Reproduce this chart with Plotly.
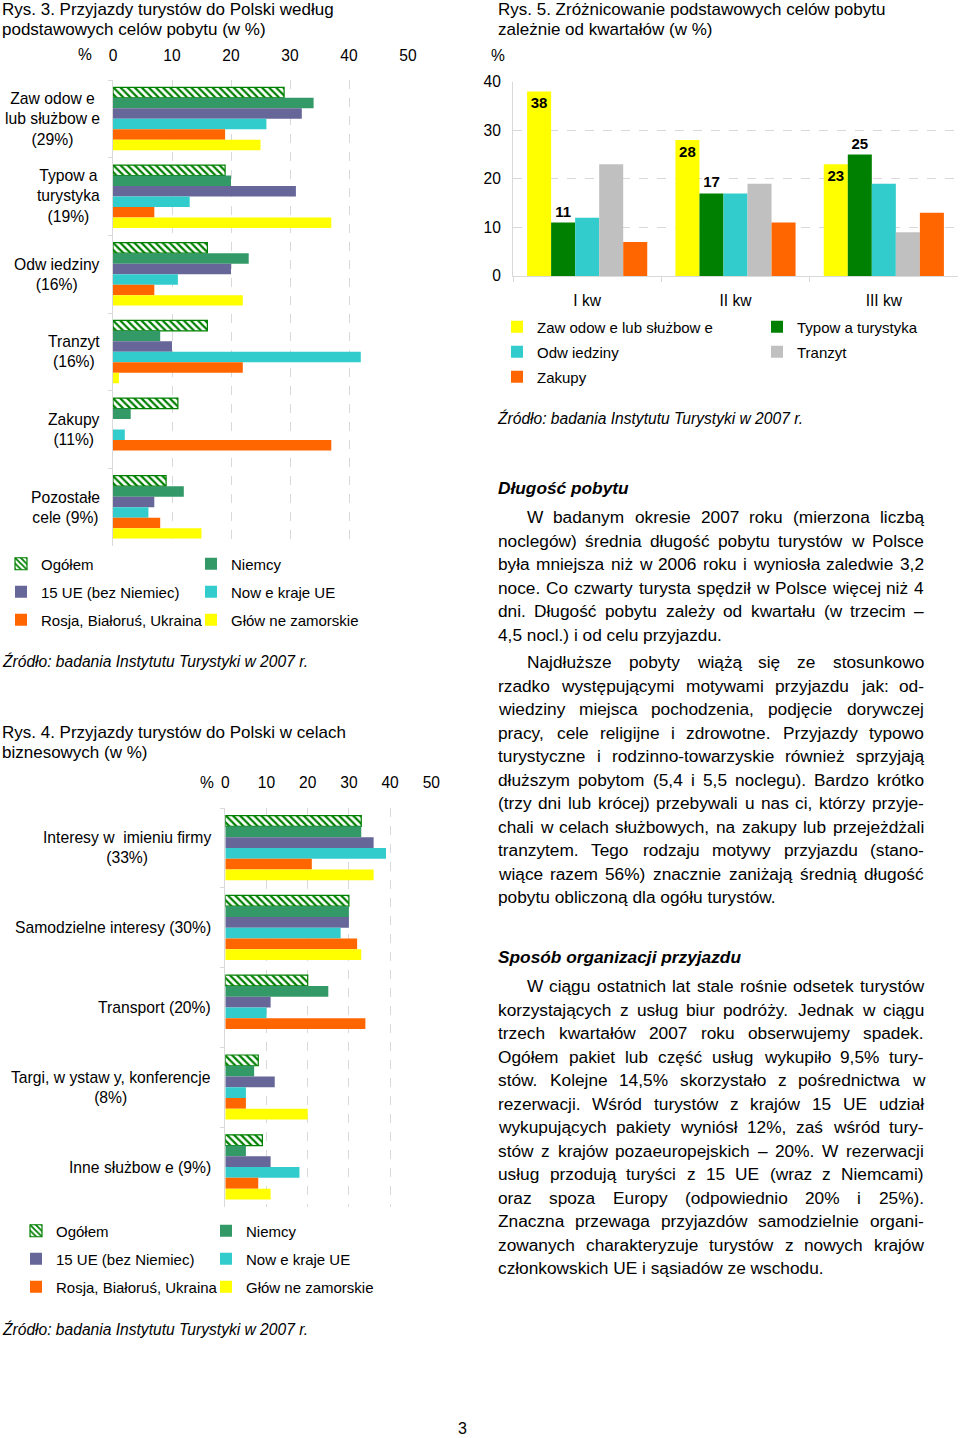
import plotly.graph_objects as go

W, H = 960, 1438
FONT = "Liberation Sans, Arial, sans-serif"


def px(x):
    return x / W


def py(y):
    return 1 - y / H


# ---------------- DATA ----------------
# Rys. 3
purposes3 = ["Zawodowe", "Typowa", "Odwiedziny", "Tranzyt", "Zakupy", "Pozostale"]
purpose_labels3 = ["Zaw odow e<br>lub służbow e<br>(29%)", "Typow a<br>turystyka<br>(19%)",
                   "Odw iedziny<br>(16%)", "Tranzyt<br>(16%)", "Zakupy<br>(11%)",
                   "Pozostałe<br>cele (9%)"]
series_names = ["Ogółem", "Niemcy", "15 UE (bez Niemiec)", "Now e kraje UE",
                "Rosja, Białoruś, Ukraina", "Głów ne zamorskie"]
ogolem3 = [29, 19, 16, 16, 11, 9]
niemcy3 = [34, 20, 23, 8, 3, 12]
ue15_3 = [32, 31, 20, 10, None, 7]
nowe3 = [26, 13, 11, 42, 2, 6]
rosja3 = [19, 7, 7, 22, 37, 8]
glowne3 = [25, 37, 22, 1, None, 15]

# Rys. 4
purposes4 = ["Interesy", "Samodzielne", "Transport", "Targi", "Inne"]
purpose_labels4 = ["Interesy w  imieniu firmy<br>(33%)", "Samodzielne interesy (30%)",
                   "Transport (20%)", "Targi, w ystaw y, konferencje<br>(8%)",
                   "Inne służbow e (9%)"]
ogolem4 = [33, 30, 20, 8, 9]
niemcy4 = [33, 30, 25, 7, 5]
ue15_4 = [36, 30, 11, 12, 11]
nowe4 = [39, 28, 10, 5, 18]
rosja4 = [21, 32, 34, 5, 8]
glowne4 = [36, 33, None, 20, 11]

# Rys. 5
quarters = ["I kw", "II kw", "III kw"]
goals5 = ["Zaw odow e lub służbow e", "Typow a turystyka", "Odw iedziny", "Tranzyt", "Zakupy"]
zawodowe5 = [38, 28, 23]
typowa5 = [11, 17, 25]
odwiedziny5 = [12, 17, 19]
tranzyt5 = [23, 19, 9]
zakupy5 = [7, 11, 13]

ticks_pct = [0, 10, 20, 30, 40, 50]
ticks5 = [0, 10, 20, 30, 40]

source_text = "Źródło: badania Instytutu Turystyki w 2007 r."

para1 = ["W badanym okresie 2007 roku (mierzona liczbą",
         "noclegów) średnia długość pobytu turystów w Polsce",
         "była mniejsza niż w 2006 roku i wyniosła zaledwie 3,2",
         "noce. Co czwarty turysta spędził w Polsce więcej niż 4",
         "dni. Długość pobytu zależy od kwartału (w trzecim –",
         "4,5 nocl.) i od celu przyjazdu."]
para2 = ["Najdłuższe pobyty wiążą się ze stosunkowo",
         "rzadko występującymi motywami przyjazdu jak: od-",
         "wiedziny miejsca pochodzenia, podjęcie dorywczej",
         "pracy, cele religijne i zdrowotne. Przyjazdy typowo",
         "turystyczne i rodzinno-towarzyskie również sprzyjają",
         "dłuższym pobytom (5,4 i 5,5 noclegu). Bardzo krótko",
         "(trzy dni lub krócej) przebywali u nas ci, którzy przyje-",
         "chali w celach służbowych, na zakupy lub przejeżdżali",
         "tranzytem. Tego rodzaju motywy przyjazdu (stano-",
         "wiące razem 56%) znacznie zaniżają średnią długość",
         "pobytu obliczoną dla ogółu turystów."]
para3 = ["W ciągu ostatnich lat stale rośnie odsetek turystów",
         "korzystających z usług biur podróży. Jednak w ciągu",
         "trzech kwartałów 2007 roku obserwujemy spadek.",
         "Ogółem pakiet lub część usług wykupiło 9,5% tury-",
         "stów. Kolejne 14,5% skorzystało z pośrednictwa w",
         "rezerwacji. Wśród turystów z krajów 15 UE udział",
         "wykupujących pakiety wyniósł 12%, zaś wśród tury-",
         "stów z krajów pozaeuropejskich – 20%. W rezerwacji",
         "usług przodują turyści z 15 UE (wraz z Niemcami)",
         "oraz spoza Europy (odpowiednio 20% i 25%).",
         "Znaczna przewaga przyjazdów samodzielnie organi-",
         "zowanych charakteryzuje turystów z nowych krajów",
         "członkowskich UE i sąsiadów ze wschodu."]

# ---------------- STYLE ----------------
C_OG = "#008000"
C_NIEMCY = "#339966"
C_UE15 = "#666699"
C_NOWE = "#33CCCC"
C_ROSJA = "#FF6600"
C_GLOWNE = "#FFFF00"
C_GREEN = "#008000"
C_GRAY = "#C0C0C0"
GRID = "#D9D9D9"

fig = go.Figure()

# series -> legend column (left col: Ogółem, 15 UE, Rosja; right col: Niemcy, Nowe, Główne)
col_of_series = [0, 1, 0, 1, 0, 1]


def add_hbars(vals_list, cats, xa, ya, legends, tag):
    cols = [None, C_NIEMCY, C_UE15, C_NOWE, C_ROSJA, C_GLOWNE]
    for i, (name, vals) in enumerate(zip(series_names, vals_list)):
        if i == 0:
            marker = dict(color="white", line=dict(color=C_OG, width=1.2),
                          pattern=dict(shape="\\", fgcolor=C_OG, bgcolor="white",
                                       size=5, solidity=0.45))
        else:
            marker = dict(color=cols[i], line=dict(width=0))
        fig.add_trace(go.Bar(y=cats, x=vals, orientation="h", name=name, marker=marker,
                             xaxis=xa, yaxis=ya, legend=legends[col_of_series[i]],
                             legendgroup=f"{tag}{i}", hoverinfo="skip"))


add_hbars([ogolem3, niemcy3, ue15_3, nowe3, rosja3, glowne3], purposes3, "x", "y",
          ["legend", "legend2"], "a")
add_hbars([ogolem4, niemcy4, ue15_4, nowe4, rosja4, glowne4], purposes4, "x2", "y2",
          ["legend3", "legend4"], "b")

cols5 = [C_GLOWNE, C_GREEN, C_NOWE, C_GRAY, C_ROSJA]
vals5 = [zawodowe5, typowa5, odwiedziny5, tranzyt5, zakupy5]
leg5 = ["legend5", "legend6", "legend5", "legend6", "legend5"]
for i, (name, vals) in enumerate(zip(goals5, vals5)):
    kw = {}
    if i == 0:
        kw = dict(text=vals, texttemplate="%{text}", textposition="inside",
                  insidetextanchor="end",
                  textfont=dict(family=FONT, size=15, color="black", weight="bold"))
    elif i == 1:
        kw = dict(text=vals, texttemplate="%{text}", textposition="outside",
                  textfont=dict(family=FONT, size=15, color="black", weight="bold"),
                  cliponaxis=False)
    fig.add_trace(go.Bar(x=quarters, y=vals, name=name,
                         marker=dict(color=cols5[i], line=dict(width=0)),
                         xaxis="x3", yaxis="y3", legend=leg5[i], legendgroup=f"c{i}",
                         hoverinfo="skip", **kw))

tickfont = dict(family=FONT, size=15.6, color="black")

fig.update_layout(
    template="none",
    width=W, height=H, margin=dict(l=0, r=0, t=0, b=0, pad=0, autoexpand=False),
    paper_bgcolor="white", plot_bgcolor="white",
    barmode="group", showlegend=True,
    font=dict(family=FONT, color="black"),
    xaxis=dict(domain=[px(113), px(408)], range=[0, 50], side="top", anchor="y",
               tickvals=ticks_pct, showgrid=True, gridcolor=GRID, griddash="dash",
               zeroline=False, showline=False, tickfont=tickfont, ticks="",
               ticklabelstandoff=15, automargin=False),
    yaxis=dict(domain=[py(546), py(80)], type="category", categoryarray=purposes3,
               autorange="reversed", showticklabels=False, showline=True, linecolor=GRID,
               ticks="outside", tickson="boundaries", ticklen=4, tickcolor=GRID,
               showgrid=False, anchor="x", automargin=False),
    xaxis2=dict(domain=[px(225.3), px(431.3)], range=[0, 50], side="top", anchor="y2",
                tickvals=ticks_pct, showgrid=True, gridcolor=GRID, griddash="dash",
                zeroline=False, showline=False, tickfont=tickfont, ticks="",
                ticklabelstandoff=16, automargin=False),
    yaxis2=dict(domain=[py(1207), py(808)], type="category", categoryarray=purposes4,
                autorange="reversed", showticklabels=False, showline=True, linecolor=GRID,
                ticks="outside", tickson="boundaries", ticklen=4, tickcolor=GRID,
                showgrid=False, anchor="x2", automargin=False),
    xaxis3=dict(domain=[px(513), px(958)], type="category", categoryarray=quarters,
                anchor="y3", showline=True, linecolor=GRID, ticks="outside",
                tickson="boundaries", ticklen=5, tickcolor=GRID, tickfont=tickfont,
                ticklabelstandoff=10, showgrid=False, automargin=False),
    yaxis3=dict(domain=[py(276), py(81.7)], range=[0, 40], tickvals=ticks5, anchor="x3",
                showgrid=True, gridcolor=GRID, griddash="dash", zeroline=False,
                showline=True, linecolor=GRID, tickfont=tickfont, ticks="",
                ticklabelstandoff=8, automargin=False),
    bargap=0.19, bargroupgap=0,
)
fig.update_xaxes(fixedrange=True)
fig.update_yaxes(fixedrange=True)


def legend_cfg(x, y, gap):
    return dict(orientation="v", x=px(x), y=py(y), xanchor="left", yanchor="middle",
                bgcolor="rgba(0,0,0,0)", font=dict(family=FONT, size=15, color="black"),
                borderwidth=0, itemwidth=30, traceorder="grouped", tracegroupgap=gap)


fig.update_layout(
    legend=legend_cfg(1, 592, 5.5), legend2=legend_cfg(191, 592, 5.5),
    legend3=legend_cfg(16, 1259, 5.5), legend4=legend_cfg(206, 1259, 5.5),
    legend5=legend_cfg(497, 352, 2.5), legend6=legend_cfg(757, 339.5, 2.5),
)

annots = []


def text(x, y, s, size=16, xanchor="left", align="left", **fontkw):
    annots.append(dict(x=px(x), y=py(y), xref="paper", yref="paper", text=s, showarrow=False,
                       xanchor=xanchor, yanchor="middle", align=align, borderpad=0, borderwidth=0,
                       font=dict(family=FONT, size=size, color="black", **fontkw)))


# titles
text(2, 10, "Rys. 3. Przyjazdy turystów do Polski według", 17)
text(2, 30, "podstawowych celów pobytu (w %)", 17)
text(2, 732, "Rys. 4. Przyjazdy turystów do Polski w celach", 17)
text(2, 752, "biznesowych (w %)", 17)
text(498, 10, "Rys. 5. Zróżnicowanie podstawowych celów pobytu", 17)
text(498, 30, "zależnie od kwartałów (w %)", 17)
text(85, 55, "%", 15.6, xanchor="center")
text(207, 782, "%", 15.6, xanchor="center")
text(498, 56, "%", 15.6, xanchor="center")

# category labels
for cat, lab in zip(purposes3, purpose_labels3):
    annots.append(dict(x=px(101), xref="paper", y=cat, yref="y", text=lab, showarrow=False,
                       xanchor="right", yanchor="middle", align="center", borderpad=0,
                       font=dict(family=FONT, size=15.7, color="black")))
for cat, lab in zip(purposes4, purpose_labels4):
    annots.append(dict(x=px(212), xref="paper", y=cat, yref="y2", text=lab, showarrow=False,
                       xanchor="right", yanchor="middle", align="center", borderpad=0,
                       font=dict(family=FONT, size=15.7, color="black")))

text(2, 661, source_text, 15.6, style="italic")
text(2, 1329, source_text, 15.6, style="italic")
text(497, 418, source_text, 15.6, style="italic")
text(462, 1428, "3", 16, xanchor="center")

# ---- justified paragraphs ----
AW = {" ": 278, "a": 556, "b": 556, "c": 500, "d": 556, "e": 556, "f": 278, "g": 556, "h": 556,
      "i": 222, "j": 222, "k": 500, "l": 222, "m": 833, "n": 556, "o": 556, "p": 556, "q": 556,
      "r": 333, "s": 500, "t": 278, "u": 556, "v": 500, "w": 722, "x": 500, "y": 500, "z": 500,
      "A": 667, "B": 667, "C": 722, "D": 722, "E": 667, "F": 611, "G": 778, "H": 722, "I": 278,
      "J": 500, "K": 667, "L": 556, "M": 833, "N": 722, "O": 778, "P": 667, "Q": 778, "R": 722,
      "S": 667, "T": 611, "U": 722, "V": 667, "W": 944, "X": 667, "Y": 667, "Z": 611,
      "ą": 556, "ć": 500, "ę": 556, "ł": 222, "ń": 556, "ó": 556, "ś": 500, "ź": 500, "ż": 500,
      "Ł": 556, "Ś": 667, "Ź": 611, "Ż": 611, "Ó": 778,
      ".": 278, ",": 278, ":": 278, ";": 278, "(": 333, ")": 333, "-": 333, "–": 556, "%": 889}
PSIZE = 17.3


def tw(s, size):
    return sum(AW.get(ch, 556) for ch in s) * size / 1000


def para(lines, y0, step=23.5, left=498, indent=29, right=924):
    for k, line in enumerate(lines):
        y = y0 + k * step
        x0 = left + (indent if k == 0 else 0)
        last = k == len(lines) - 1
        words = line.split()
        if last or len(words) < 2:
            text(x0, y, line, PSIZE)
            continue
        widths = [tw(w, PSIZE) for w in words]
        gap = (right - x0 - sum(widths)) / (len(words) - 1)
        x = x0
        for w, wd in zip(words, widths):
            text(x, y, w, PSIZE)
            x += wd + gap


text(498, 488, "<b><i>Długość pobytu</i></b>", 17.3)
para(para1, 517)
para(para2, 662)
text(498, 957, "<b><i>Sposób organizacji przyjazdu</i></b>", 17.3)
para(para3, 986)

fig.update_layout(annotations=annots)
fig.write_html("out.html", config={"displayModeBar": False, "staticPlot": True},
               post_script="document.body.style.margin='0';document.body.style.padding='0';"
                           "document.documentElement.style.overflow='hidden';")
